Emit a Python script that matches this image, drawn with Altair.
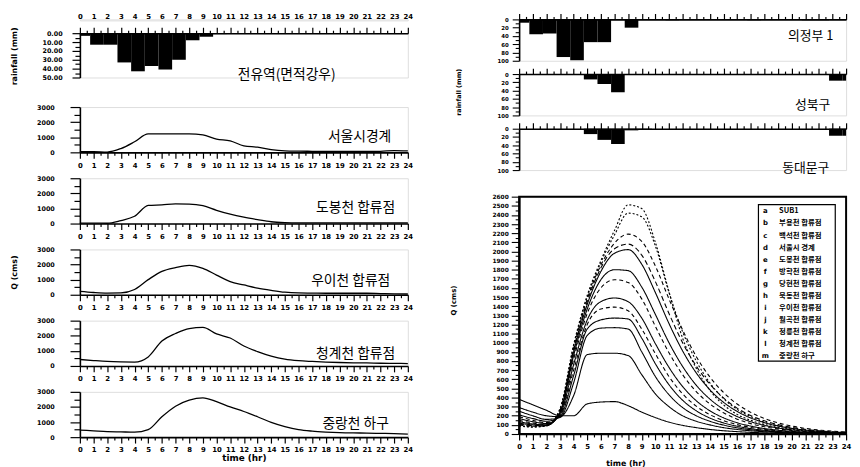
import altair as alt
import pandas as pd

# ---------------- data ----------------
hours = list(range(25))
half_hours = [h / 2 for h in range(49)]
bar_start = [0] + [h - 0.25 for h in range(1, 25)]
bar_end = [h + 0.75 for h in range(0, 24)] + [24]

# hourly rainfall (mm) per bar
rain_area = [3, 13, 13, 33, 43, 37, 41, 30, 8, 4, 1, 0.5, 0, 0, 0, 0, 0, 0, 0, 0, 0, 0, 0, 0, 0]
rain_ujb = [8, 36, 34, 91, 99, 55, 55, 0, 20, 0, 0, 2, 0, 0, 0, 0, 0, 2, 0, 0, 0, 2, 2, 0, 0]
rain_sb = [0, 0, 0, 0, 0, 13, 24, 44, 0, 0, 0, 0, 0, 0, 0, 0, 0, 0, 0, 0, 0, 0, 0, 16, 16]
rain_ddm = [0, 0, 0, 0, 0, 13, 27, 37, 4, 2, 0, 0, 0, 0, 0, 0, 0, 0, 0, 0, 0, 0, 0, 17, 17]

# left hydrographs (cms)
q_seoul = [50, 50, 20, 250, 700, 1220, 1220, 1220, 1220, 1150, 880, 760, 430, 340, 180, 100, 80, 70, 60, 60, 60, 60, 70, 120, 100]
q_dobong = [30, 30, 20, 200, 480, 1200, 1240, 1300, 1290, 1180, 880, 620, 420, 260, 120, 60, 40, 40, 40, 40, 40, 40, 40, 40, 40]
q_ui = [220, 150, 110, 120, 350, 1000, 1550, 1800, 1950, 1750, 1300, 870, 650, 440, 290, 170, 120, 110, 100, 100, 100, 100, 80, 60, 50]
q_cheong = [430, 360, 300, 270, 260, 600, 1650, 2150, 2480, 2550, 2120, 1850, 1320, 950, 650, 450, 350, 300, 260, 230, 210, 200, 180, 170, 160]
q_hagu = [470, 420, 370, 350, 330, 500, 1350, 2050, 2450, 2600, 2350, 2000, 1700, 1350, 980, 700, 500, 400, 340, 300, 280, 270, 250, 230, 200]

# right hydrograph curves (cms)
curve_keys = list("abcdefghijklm")
curve_names = ["SUB1", "부용천 합류점", "백석천 합류점", "서울시 경계", "도봉천 합류점", "방학천 합류점",
               "당현천 합류점", "묵동천 합류점", "우이천 합류점", "월곡천 합류점", "정릉천 합류점",
               "청계천 합류점", "중랑천 하구"]
c_a = [380, 320, 260, 200, 200, 330, 350, 355, 310, 240, 180, 130, 95, 70, 50, 36, 26, 18, 13, 9, 6, 4, 3, 2, 1]
c_b = [290, 240, 200, 190, 420, 870, 885, 885, 860, 650, 440, 300, 200, 140, 100, 70, 50, 35, 25, 17, 12, 8, 6, 4, 3]
c_c = [250, 200, 160, 180, 560, 1080, 1160, 1165, 1150, 900, 630, 430, 290, 200, 140, 98, 68, 47, 33, 23, 16, 11, 8, 6, 4]
c_d = [210, 170, 140, 190, 640, 1150, 1250, 1270, 1260, 1050, 770, 540, 370, 255, 175, 122, 85, 59, 41, 28, 20, 14, 10, 7, 5]
c_e = [190, 150, 125, 200, 700, 1200, 1370, 1390, 1350, 1150, 880, 630, 440, 305, 212, 148, 103, 72, 50, 35, 24, 17, 12, 8, 6]
c_f = [170, 135, 115, 210, 760, 1250, 1450, 1490, 1450, 1270, 990, 730, 520, 365, 255, 178, 124, 87, 60, 42, 29, 20, 14, 10, 7]
c_g = [150, 120, 105, 220, 820, 1320, 1600, 1690, 1660, 1480, 1180, 890, 650, 465, 330, 232, 163, 114, 80, 56, 39, 27, 19, 13, 9]
c_h = [135, 110, 100, 230, 860, 1370, 1690, 1800, 1790, 1610, 1310, 1000, 740, 535, 383, 272, 192, 135, 95, 66, 46, 32, 23, 16, 11]
c_i = [120, 100, 95, 240, 900, 1420, 1780, 1980, 2020, 1860, 1550, 1210, 910, 670, 485, 348, 248, 176, 125, 88, 62, 43, 30, 21, 15]
c_j = [110, 92, 92, 250, 920, 1450, 1820, 2030, 2080, 1960, 1670, 1320, 1000, 745, 545, 395, 284, 203, 145, 103, 73, 51, 36, 25, 18]
c_k = [100, 85, 90, 260, 940, 1480, 1850, 2090, 2190, 2110, 1840, 1480, 1140, 850, 625, 455, 329, 237, 170, 122, 87, 62, 44, 31, 22]
c_l = [95, 80, 90, 270, 960, 1500, 1880, 2180, 2420, 2380, 2060, 1550, 1120, 800, 560, 390, 270, 190, 130, 90, 62, 43, 30, 21, 14]
c_m = [90, 75, 90, 280, 980, 1520, 1900, 2230, 2510, 2470, 2100, 1560, 1050, 720, 480, 320, 215, 150, 105, 72, 50, 34, 23, 16, 11]
curve_values = [c_a, c_b, c_c, c_d, c_e, c_f, c_g, c_h, c_i, c_j, c_k, c_l, c_m]

# ---------------- style ----------------
KR = "Noto Sans CJK KR"
LF = "DejaVu Sans"
dash_list = [[1, 0], [1, 0], [1, 0], [1, 0], [4, 3], [1, 0], [4, 3], [1, 0], [1, 0],
             [5, 3], [4, 3], [2, 2], [2, 2]]

LW = 333   # left plot width
RW = 332   # right plot width


def cond(test, big, small):
    return {"condition": {"test": test, "value": big}, "value": small}


HOUR_TEST = "datum.value % 1 === 0"
HOUR_LABEL = "datum.value % 1 === 0 ? format(datum.value, 'd') : ''"


def x_axis(orient, show_labels=True, **extra):
    kw = dict(orient=orient, values=half_hours, tickSize=cond(HOUR_TEST, 6, 3),
              tickColor="black", tickWidth=1.2, domainColor="black", domainWidth=1.6,
              labels=show_labels, grid=False)
    if show_labels:
        kw.update(labelExpr=HOUR_LABEL, labelFontSize=7,
                  labelFontWeight="bold", labelFont=LF, labelColor="black", labelPadding=3,
                  labelOverlap=False, labelBound=False, labelFlush=False)
    kw.update(extra)
    return alt.Axis(**kw)


def time_df(vals):
    return pd.DataFrame({"t": hours, "q": vals})


def bar_df(vals):
    return pd.DataFrame({"t0": bar_start, "t1": bar_end, "v": vals})


def name_text(label, px, py, size):
    return alt.Chart(pd.DataFrame({"s": [label]})).mark_text(
        font=KR, fontSize=size, align="center", baseline="middle", color="black"
    ).encode(text="s:N", x=alt.value(px), y=alt.value(py))


# ---------------- left rainfall ----------------
# hour labels above the rainfall panel
hour_labels = alt.Chart(pd.DataFrame({"t": hours})).mark_point(opacity=0, size=1).encode(
    x=alt.X("t:Q", scale=alt.Scale(domain=[0, 24], nice=False), title=None,
            axis=alt.Axis(orient="top", values=hours, format="d", tickSize=0, domain=False,
                          ticks=False, grid=False, labelPadding=0, labelFontSize=7,
                          labelFontWeight="bold", labelFont=LF, labelColor="black",
                          labelOverlap=False, labelBound=False, labelFlush=False)),
    y=alt.value(0),
).properties(width=LW, height=1)

left_rain_bars = alt.Chart(bar_df(rain_area)).mark_rect(color="black").encode(
    x=alt.X("t0:Q", scale=alt.Scale(domain=[0, 24], nice=False), title=None,
            axis=x_axis("top", False)),
    x2="t1:Q",
    y=alt.Y("v:Q", scale=alt.Scale(domain=[0, 50], reverse=True, nice=False),
            axis=alt.Axis(values=[0, 5, 10, 15, 20, 25, 30, 35, 40, 45, 50],
                          labelExpr="datum.value % 10 === 0 ? format(datum.value, '.2f') : ''",
                          tickSize=cond("datum.value % 10 === 0", 8, 5), tickColor="black",
                          tickWidth=1.2, domainColor="black", domainWidth=1.6,
                          labelFontSize=6.5, labelFontWeight="bold", labelFont=LF,
                          labelColor="black", labelPadding=10, grid=False,
                          title="rainfall (mm)", titleFont=LF, titleFontSize=8,
                          titleFontWeight="bold", titleX=-66, titleY=23, titleAngle=270,
                          titleAlign="center", titleBaseline="middle")),
    y2=alt.datum(0),
)
left_rain = alt.layer(left_rain_bars, name_text("전유역(면적강우)", 210, 43, 14)).properties(
    width=LW, height=45)


# ---------------- left hydrographs ----------------
def left_hydro(vals, label, lx, ly, ytitle=False, xtitle=False):
    scale_x = alt.Scale(domain=[0, 24], nice=False)
    scale_y = alt.Scale(domain=[0, 3000], nice=False)
    if xtitle:
        xenc = alt.X("t:Q", scale=scale_x,
                     axis=x_axis("bottom", True, title="time (hr)", titleFont=LF,
                                 titleFontSize=9, titleFontWeight="bold", titlePadding=1))
    else:
        xenc = alt.X("t:Q", scale=scale_x, title=None, axis=x_axis("bottom", True))
    ykw = dict(values=[0, 500, 1000, 1500, 2000, 2500, 3000],
               labelExpr="datum.value % 1000 === 0 ? format(datum.value, 'd') : ''",
               tickSize=cond("datum.value % 1000 === 0", 10, 6),
               tickColor="black", tickWidth=1.2, domainColor="black", domainWidth=1.6,
               labelFontSize=6.5, labelFontWeight="bold", labelFont=LF,
               labelColor="black", labelPadding=16, grid=False)
    if ytitle:
        ykw.update(title="Q (cms)", titleFont=LF, titleFontSize=8, titleFontWeight="bold",
                   titleX=-66, titleY=23, titleAngle=270, titleAlign="center",
                   titleBaseline="middle")
        yenc = alt.Y("q:Q", scale=scale_y, axis=alt.Axis(**ykw))
    else:
        yenc = alt.Y("q:Q", scale=scale_y, title=None, axis=alt.Axis(**ykw))
    line = alt.Chart(time_df(vals)).mark_line(
        color="black", strokeWidth=1.3, interpolate="monotone").encode(x=xenc, y=yenc)
    return alt.layer(line, name_text(label, lx, ly, 14)).properties(width=LW, height=46)


h1 = left_hydro(q_seoul, "서울시경계", 284, 30)
h2 = left_hydro(q_dobong, "도봉천  합류점", 280, 30)
h3 = left_hydro(q_ui, "우이천  합류점", 275, 32, ytitle=True)
h4 = left_hydro(q_cheong, "청계천  합류점", 280, 34)
h5 = left_hydro(q_hagu, "중랑천  하구", 280, 33, xtitle=True)

left_hyd = alt.vconcat(h1, h2, h3, h4, h5, spacing=5.3)
left_top = alt.vconcat(hour_labels, left_rain, spacing=4)
left_col = alt.vconcat(left_top, left_hyd, spacing=18)


# ---------------- right rainfall ----------------
def right_rain(vals, label, lx, ly, ytitle=False):
    ykw = dict(values=[0, 10, 20, 30, 40, 50, 60, 70, 80, 90, 100],
               labelExpr="datum.value % 20 === 0 ? format(datum.value, 'd') : ''",
               tickSize=cond("datum.value % 20 === 0", 7, 4), tickColor="black",
               tickWidth=1.1, domainColor="black", domainWidth=1.6,
               labelFontSize=5.5, labelFontWeight="bold", labelFont=LF,
               labelColor="black", labelPadding=4, grid=False)
    scale_y = alt.Scale(domain=[0, 100], reverse=True, nice=False)
    if ytitle:
        ykw.update(title="rainfall (mm)", titleFont=LF, titleFontSize=6.5,
                   titleFontWeight="bold", titleX=-62, titleY=18, titleAngle=270,
                   titleAlign="center", titleBaseline="middle")
        yenc = alt.Y("v:Q", scale=scale_y, axis=alt.Axis(**ykw))
    else:
        yenc = alt.Y("v:Q", scale=scale_y, title=None, axis=alt.Axis(**ykw))
    bars = alt.Chart(bar_df(vals)).mark_rect(color="black").encode(
        x=alt.X("t0:Q", scale=alt.Scale(domain=[0, 24], nice=False), title=None,
                axis=x_axis("top", False)),
        x2="t1:Q",
        y=yenc,
        y2=alt.datum(0),
    )
    return alt.layer(bars, name_text(label, lx, ly, 13)).properties(width=RW, height=42)


r1 = right_rain(rain_ujb, "의정부 1", 296, 17)
r2 = right_rain(rain_sb, "성북구", 298, 31, ytitle=True)
r3 = right_rain(rain_ddm, "동대문구", 291, 40)

# ---------------- right hydrograph ----------------
rows = []
for k, vals in zip(curve_keys, curve_values):
    for t, q in zip(hours, vals):
        rows.append({"t": t, "q": q, "k": k})
curves_df = pd.DataFrame(rows)

ylabels = list(range(0, 2650, 50))
hyd_lines = alt.Chart(curves_df).mark_line(
    color="black", strokeWidth=1.1, interpolate="monotone").encode(
    x=alt.X("t:Q", scale=alt.Scale(domain=[0, 24], nice=False),
            axis=x_axis("bottom", True, title="time (hr)", titleFont=LF, titleFontSize=8,
                        titleFontWeight="bold", titlePadding=0, titleX=108, titleY=26)),
    y=alt.Y("q:Q", scale=alt.Scale(domain=[0, 2600], nice=False),
            axis=alt.Axis(values=ylabels,
                          labelExpr="datum.value % 100 === 0 ? format(datum.value, 'd') : ''",
                          tickSize=cond("datum.value % 100 === 0", 8, 4),
                          tickColor="black", tickWidth=1.1, domainColor="black",
                          domainWidth=2, labelFontSize=6, labelFontWeight="bold",
                          labelFont=LF, labelColor="black", labelPadding=3,
                          labelOverlap=False, labelBound=False, grid=False,
                          title="Q (cms)", titleFont=LF, titleFontSize=7,
                          titleFontWeight="bold", titleX=-67, titleY=105, titleAngle=270,
                          titleAlign="center", titleBaseline="middle")),
    strokeDash=alt.StrokeDash("k:N", scale=alt.Scale(domain=curve_keys, range=dash_list),
                              legend=None),
    detail="k:N",
)

frame = alt.Chart(pd.DataFrame({"z": [0]})).mark_rect(
    fill="white", fillOpacity=0, stroke="black", strokeWidth=2).encode(
    x=alt.value(0), x2=alt.value(RW), y=alt.value(0), y2=alt.value(241))

legend_box = alt.Chart(pd.DataFrame({"z": [0]})).mark_rect(
    fill="white", stroke="black", strokeWidth=1.2).encode(
    x=alt.value(243), x2=alt.value(321), y=alt.value(8), y2=alt.value(167))

leg_df = pd.DataFrame({"k": curve_keys, "name": curve_names, "row": list(range(13))})
leg_scale = alt.Scale(type="point", domain=list(range(13)), range=[15, 162], padding=0)
leg_letters = alt.Chart(leg_df).mark_text(
    font=LF, fontSize=7, fontWeight="bold", align="center", baseline="middle", color="black"
).encode(text="k:N", x=alt.value(250), y=alt.Y("row:O", scale=leg_scale, axis=None))
leg_names = alt.Chart(leg_df).mark_text(
    font=KR, fontSize=7.5, fontWeight="bold", align="left", baseline="middle", color="black"
).encode(text="name:N", x=alt.value(264), y=alt.Y("row:O", scale=leg_scale, axis=None))

right_hyd = alt.layer(hyd_lines, frame, legend_box, leg_letters, leg_names).resolve_scale(
    y="independent").properties(width=RW, height=241)

right_rain_col = alt.vconcat(r1, r2, r3, spacing=1.5)
right_col = alt.vconcat(right_rain_col, right_hyd, spacing=17)

chart = alt.hconcat(left_col, right_col, spacing=35).properties(
    padding={"left": 2, "top": 0, "right": 0, "bottom": 0}
).configure_view(stroke=None).configure(background="white")

chart.save("out.html", embed_options={"renderer": "svg", "actions": False})
